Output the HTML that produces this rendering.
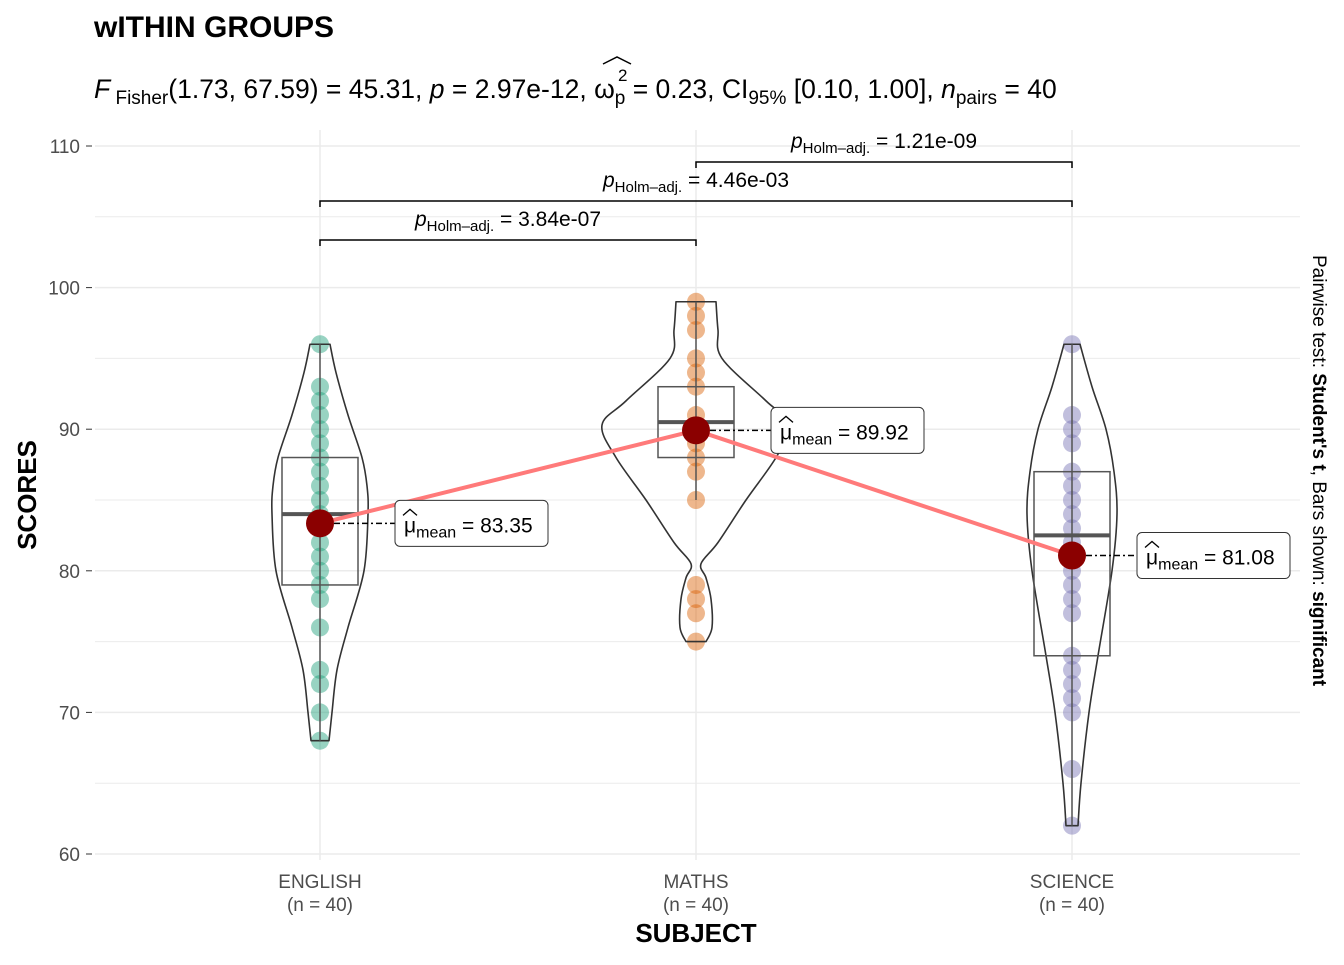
<!DOCTYPE html>
<html><head><meta charset="utf-8"><style>
body{margin:0;background:#fff;font-family:"Liberation Sans",sans-serif}
svg text{font-family:"Liberation Sans",sans-serif}
</style></head><body>
<svg id="chart" width="1344" height="960" viewBox="0 0 1344 960" xmlns="http://www.w3.org/2000/svg">
<g id="root"></g>
<text x="94" y="37" font-size="30" font-weight="bold">wITHIN GROUPS</text>
<text x="94" y="98" font-size="26.5"><tspan font-style="italic">F</tspan><tspan font-size="19" dy="6"> Fisher</tspan><tspan dy="-6">(1.73, 67.59) = 45.31, </tspan><tspan font-style="italic">p</tspan> = 2.97e-12, ω<tspan font-size="19" dy="6">p</tspan><tspan dy="-6"> = 0.23, CI</tspan><tspan font-size="19" dy="6">95%</tspan><tspan dy="-6"> [0.10, 1.00], </tspan><tspan font-style="italic">n</tspan><tspan font-size="19" dy="6">pairs</tspan><tspan dy="-6"> = 40</tspan></text>
<text x="618" y="81" font-size="17">2</text>
<path d="M603 64 L617 57 L631 64" fill="none" stroke="#000" stroke-width="1.5"/>
<text x="0" y="0" font-size="19" transform="translate(1313,255) rotate(90)">Pairwise test: <tspan font-weight="bold">Student's t</tspan>, Bars shown: <tspan font-weight="bold">significant</tspan></text>
<text x="0" y="0" font-size="26" font-weight="bold" text-anchor="middle" transform="translate(36,495) rotate(-90)">SCORES</text>
<text x="696" y="942" font-size="26" font-weight="bold" text-anchor="middle">SUBJECT</text>
</svg>
<script>
const categories=["ENGLISH","MATHS","SCIENCE"];
const means=[83.35,89.92,81.08];
const englishScores=[96,93,92,91,90,89,88,87,86,85,84,82,81,80,79,78,76,73,72,70,68];
const mathsScores=[99,98,97,95,94,93,91,90,89,88,87,85,79,78,77,75];
const scienceScores=[96,91,90,89,87,86,85,84,83,82,81,80,79,78,77,74,73,72,71,70,66,62];
const boxStats=[[68,79,84,88,96],[85,88,90.5,93,99],[62,74,82.5,87,96]];
const violinVals=[[68,70,73,76,80,84,86,88,91,94,96],[75,76,78,79.5,80.5,82,85,88,90.3,92,95,97,99],[62,65,70,74,80,84,87,90,93,96]];
const violinHalf=[[9,12,17,28,44,48,47,42,28,16,10],[10,16,15,10,5,22,50,80,94,70,26,22,20],[6,9,17,26,40,45,42,34,20,8]];
const yTicks=[60,70,80,90,100,110];
const pairs=[[0,1,"3.84e-07"],[0,2,"4.46e-03"],[1,2,"1.21e-09"]];
const colors=["#1B9E77","#D95F02","#7570B3"];
const NS="http://www.w3.org/2000/svg";
const X0=95,X1=1300;
function y(v){return 854-(v-60)*14.16;}
function x(i){return 320+i*376;}
const root=document.getElementById('root');
function mk(t,a,p){const e=document.createElementNS(NS,t);for(const k in a)e.setAttribute(k,a[k]);(p||root).appendChild(e);return e;}
function ts(parent,txt,a){const s=mk('tspan',a||{},parent);s.textContent=txt;return s;}
function curve(pts){let d='';
for(let i=0;i<pts.length-1;i++){const p0=pts[Math.max(0,i-1)],p1=pts[i],p2=pts[i+1],p3=pts[Math.min(pts.length-1,i+2)];
const c1=[p1[0]+(p2[0]-p0[0])/6,p1[1]+(p2[1]-p0[1])/6],c2=[p2[0]-(p3[0]-p1[0])/6,p2[1]-(p3[1]-p1[1])/6];
d+='C'+c1[0]+' '+c1[1]+' '+c2[0]+' '+c2[1]+' '+p2[0]+' '+p2[1];}return d;}
for(let v=60;v<=110;v+=5){const l=mk('line',{x1:X0,x2:X1,y1:y(v),y2:y(v),stroke:'#ebebeb','stroke-width':v%10?1:1.5});

}
categories.forEach((c,i)=>{const l=mk('line',{x1:x(i),x2:x(i),y1:130,y2:860,stroke:'#ebebeb','stroke-width':1.5});

});
yTicks.forEach(v=>{const t=mk('text',{x:80,y:y(v)+7,'font-size':19,'text-anchor':'end',fill:'#4d4d4d'});t.textContent=v;


const k=mk('line',{x1:86,x2:92,y1:y(v),y2:y(v),stroke:'#333'});

});
categories.forEach((c,i)=>{const t=mk('text',{x:x(i),y:888,'font-size':19,'text-anchor':'middle',fill:'#4d4d4d'});t.textContent=c;


const n=mk('text',{x:x(i),y:911,'font-size':19,'text-anchor':'middle',fill:'#4d4d4d'});n.textContent='(n = 40)';

});
const allScores=[englishScores,mathsScores,scienceScores];
allScores.forEach((arr,i)=>{arr.forEach(v=>{const c=mk('circle',{cx:x(i),cy:y(v),r:9,fill:colors[i],'fill-opacity':0.45});

});});
violinVals.forEach((vals,i)=>{const h=violinHalf[i];
const right=vals.map((v,j)=>[x(i)+h[j],y(v)]);const left=vals.map((v,j)=>[x(i)-h[j],y(v)]).reverse();
const d='M'+right[0][0]+' '+right[0][1]+curve(right)+'L'+left[0][0]+' '+left[0][1]+curve(left)+'Z';
const p=mk('path',{d:d,fill:'none',stroke:'#333','stroke-width':1.6,'stroke-linejoin':'round'});

});
boxStats.forEach((b,i)=>{const g=mk('g',{});


mk('line',{x1:x(i),x2:x(i),y1:y(b[0]),y2:y(b[4]),stroke:'#555','stroke-width':1.5},g);
mk('rect',{x:x(i)-38,y:y(b[3]),width:76,height:y(b[1])-y(b[3]),fill:'none',stroke:'#555','stroke-width':1.5},g);
mk('line',{x1:x(i)-38,x2:x(i)+38,y1:y(b[2]),y2:y(b[2]),stroke:'#555','stroke-width':4},g);});
let pd='';means.forEach((m,i)=>{pd+=(i?'L':'M')+x(i)+' '+y(m);});
const ml=mk('path',{d:pd,fill:'none',stroke:'#ff7a7a','stroke-width':4});


means.forEach((m,i)=>{const bx=Math.min(x(i)+75,X1-163);
const dl=mk('line',{x1:x(i),x2:bx,y1:y(m),y2:y(m),stroke:'#000','stroke-width':1.5,'stroke-dasharray':'6 3 2 3'});


const c=mk('circle',{cx:x(i),cy:y(m),r:14,fill:'#8b0000'});


const r=mk('rect',{x:bx,y:y(m)-23,width:153,height:46,rx:5,fill:'#fff',stroke:'#333'});


const t=mk('text',{x:bx+9,y:y(m)+9,'font-size':21});
ts(t,'μ');ts(t,'mean',{'font-size':16,dy:5});ts(t,' = '+m.toFixed(2),{dy:-5});


mk('path',{d:'M'+(bx+8)+' '+(y(m)-8)+' L'+(bx+15)+' '+(y(m)-14)+' L'+(bx+22)+' '+(y(m)-8),fill:'none',stroke:'#000','stroke-width':1.3});});
const brY=[240,201,162];
pairs.forEach((p,k)=>{const yy=brY[k];const a=x(p[0]),b=x(p[1]);
const br=mk('path',{d:'M'+a+' '+(yy+6)+'L'+a+' '+yy+'L'+b+' '+yy+'L'+b+' '+(yy+6),fill:'none',stroke:'#000','stroke-width':1.5});


const t=mk('text',{x:(a+b)/2,y:yy-14,'font-size':21,'text-anchor':'middle'});
ts(t,'p',{'font-style':'italic'});ts(t,'Holm–adj.',{'font-size':15,dy:5});ts(t,' = '+p[2],{dy:-5});

});
</script>
</body></html>
